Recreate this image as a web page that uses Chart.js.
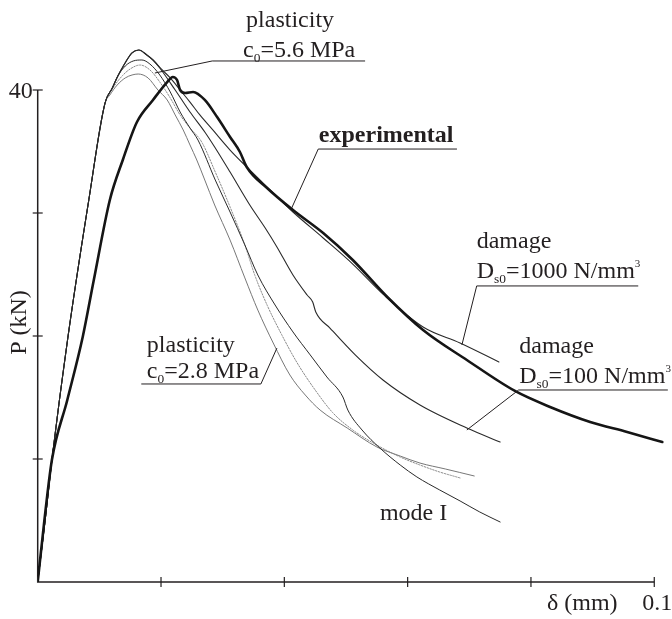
<!DOCTYPE html>
<html>
<head>
<meta charset="utf-8">
<script src="https://cdn.jsdelivr.net/npm/chart.js@4.4.1/dist/chart.umd.min.js"></script>
<style>
  html, body { margin: 0; padding: 0; background: #fff; }
  canvas { display: block; }
</style>
</head>
<body>
<canvas id="chart" width="672" height="619"></canvas>
<script>
// delta in mm, P in kN

// elastic branch shared by all numerical curves
const elasticDelta = [0, 0.0012, 0.0023, 0.0049, 0.0083, 0.0109];
const elasticLoad = [0, 5.0, 9.9, 19.9, 31.1, 38.9];

const experimentalDelta = [0, 0.0010, 0.0023, 0.0048, 0.0073, 0.0091, 0.0117, 0.0138, 0.0161, 0.0187,
  0.0210, 0.0219, 0.0226, 0.0231, 0.0239, 0.0252, 0.0271, 0.0291, 0.0312, 0.0328, 0.0339, 0.0372,
  0.0414, 0.0463, 0.0511, 0.0567, 0.0625, 0.0696, 0.0774, 0.0831, 0.0896, 0.0956, 0.1013];
const experimentalLoad = [0, 4.63, 9.92, 14.80, 19.92, 24.55, 31.06, 34.31, 37.40, 39.19,
  40.65, 41.06, 40.81, 40.00, 39.76, 39.84, 39.19, 37.80, 36.18, 34.96, 33.74, 32.03,
  30.24, 28.37, 26.18, 23.17, 20.49, 18.05, 15.53, 14.23, 13.01, 12.20, 11.38];

const damage1000Delta = [0.0121, 0.0130, 0.0138, 0.0153, 0.0164, 0.0177, 0.0187, 0.0202, 0.0215, 0.0231,
  0.0247, 0.0263, 0.0284, 0.0312, 0.0339, 0.0377, 0.0414, 0.0463, 0.0511, 0.0560, 0.0625, 0.0685, 0.0748];
const damage1000Load = [40.16, 41.14, 41.87, 43.01, 43.25, 42.85, 42.44, 41.63, 40.98, 40.00,
  39.02, 37.97, 36.75, 35.12, 33.74, 31.87, 30.08, 27.97, 25.85, 23.41, 20.73, 19.43, 17.89];

const damage100Delta = [0.0121, 0.0130, 0.0138, 0.0153, 0.0164, 0.0177, 0.0187, 0.0198, 0.0223, 0.0247,
  0.0271, 0.0287, 0.0312, 0.0344, 0.0369, 0.0388, 0.0414, 0.0437, 0.0446, 0.0451, 0.0474, 0.0515,
  0.0560, 0.0620, 0.0696, 0.0750];
const damage100Load = [40.16, 41.14, 41.87, 43.01, 43.25, 42.85, 42.44, 41.79, 40.00, 38.21,
  36.59, 35.37, 33.33, 30.65, 28.78, 27.24, 24.96, 23.33, 22.76, 21.95, 20.65, 18.46,
  16.42, 14.39, 12.52, 11.38];

const modeIDelta = [0.0121, 0.0130, 0.0142, 0.0155, 0.0169, 0.0182, 0.0198, 0.0215, 0.0231, 0.0247,
  0.0260, 0.0288, 0.0312, 0.0336, 0.0357, 0.0385, 0.0414, 0.0442, 0.0469, 0.0495, 0.0503, 0.0526,
  0.0555, 0.0588, 0.0615, 0.0652, 0.0685, 0.0717, 0.0750];
const modeILoad = [40.16, 41.14, 41.95, 42.36, 42.44, 42.11, 41.22, 39.84, 38.21, 36.91,
  35.93, 32.68, 30.08, 27.40, 24.96, 22.52, 20.33, 18.46, 16.67, 15.04, 13.98, 12.36,
  10.89, 9.51, 8.54, 7.48, 6.59, 5.69, 4.88];

const plast56Delta = [0.0122, 0.0137, 0.0150, 0.0166, 0.0182, 0.0198, 0.0215, 0.0231, 0.0247, 0.0266,
  0.0288, 0.0312, 0.0336, 0.0352, 0.0372, 0.0396, 0.0421, 0.0450, 0.0479, 0.0511, 0.0544, 0.0588,
  0.0620, 0.0652, 0.0685];
const plast56Load = [40.16, 41.14, 41.71, 42.03, 41.63, 40.65, 39.35, 37.97, 36.91, 35.77,
  33.33, 30.49, 27.40, 24.96, 22.52, 20.08, 17.80, 15.61, 13.74, 12.36, 11.30, 10.16,
  9.51, 8.94, 8.46];

const plast28Delta = [0.0117, 0.0129, 0.0142, 0.0153, 0.0163, 0.0179, 0.0195, 0.0210, 0.0223, 0.0236,
  0.0247, 0.0258, 0.0271, 0.0287, 0.0312, 0.0336, 0.0357, 0.0382, 0.0409, 0.0434, 0.0458, 0.0502,
  0.0550, 0.0588, 0.0620, 0.0661, 0.0708];
const plast28Load = [39.59, 40.41, 40.98, 41.22, 41.30, 40.98, 40.00, 39.19, 37.97, 36.75,
  35.53, 34.31, 32.68, 30.65, 27.80, 24.72, 22.11, 19.43, 16.83, 15.20, 13.98, 12.52,
  10.98, 10.24, 9.67, 9.19, 8.62];

const yTicks = [10, 20, 30, 40];
const xTicks = [0.02, 0.04, 0.06, 0.08, 0.1];
const yTickLabels = ['', '', '', '40'];
const xTickLabels = ['', '', '', '', '0.1'];

const FONT = '"Liberation Serif", "Times New Roman", serif';
const INK = '#231f20';

function toPoints(d, p) {
  return d.map((v, i) => ({ x: v, y: p[i] }));
}
function numerical(d, p) {
  return toPoints(elasticDelta.concat(d), elasticLoad.concat(p));
}

// text blocks and leader lines, in data units
const annotations = [
  { lines: [[{ t: 'plasticity' }], [{ t: 'c' }, { t: '0', sub: true }, { t: '=5.6 MPa' }]],
    at: [[0.0338, 45.12], [0.0333, 42.68]],
    leader: [[0.0190, 41.38], [0.0283, 42.36], [0.0531, 42.36]] },
  { lines: [[{ t: 'experimental' }]], bold: true,
    at: [[0.0456, 35.77]],
    leader: [[0.0412, 30.41], [0.0455, 35.20], [0.0680, 35.20]] },
  { lines: [[{ t: 'damage' }], [{ t: 'D' }, { t: 's0', sub: true }, { t: '=1000 N/mm' }, { t: '3', sup: true }]],
    at: [[0.0712, 27.15], [0.0712, 24.72]],
    leader: [[0.0688, 19.27], [0.0712, 24.07], [0.0974, 24.07]] },
  { lines: [[{ t: 'damage' }], [{ t: 'D' }, { t: 's0', sub: true }, { t: '=100 N/mm' }, { t: '3', sup: true }]],
    at: [[0.0781, 18.62], [0.0781, 16.18]],
    leader: [[0.0696, 12.36], [0.0780, 15.61], [0.1022, 15.61]] },
  { lines: [[{ t: 'plasticity' }], [{ t: 'c' }, { t: '0', sub: true }, { t: '=2.8 MPa' }]],
    at: [[0.0177, 18.70], [0.0177, 16.59]],
    leader: [[0.0388, 19.02], [0.0362, 16.10], [0.0168, 16.10]] },
  { lines: [[{ t: 'mode I' }]], at: [[0.0555, 5.04]] }
];

function drawRich(ctx, x, y, parts, size, weight) {
  let cx = x;
  parts.forEach(p => {
    let fs = size, dy = 0;
    if (p.sub) { fs = size * 0.56; dy = size * 0.2; }
    if (p.sup) { fs = size * 0.46; dy = -size * 0.45; }
    ctx.font = (weight || 'normal') + ' ' + fs + 'px ' + FONT;
    ctx.fillText(p.t, cx, y + dy);
    cx += ctx.measureText(p.t).width;
  });
}

const figurePlugin = {
  id: 'figure',
  beforeDatasetsDraw(chart) {
    const ctx = chart.ctx;
    const xs = chart.scales.x, ys = chart.scales.y;
    const x0 = xs.getPixelForValue(0), y0 = ys.getPixelForValue(0);
    ctx.save();
    ctx.strokeStyle = INK;
    ctx.lineWidth = 1.5;
    ctx.beginPath();
    ctx.moveTo(x0, ys.getPixelForValue(40));
    ctx.lineTo(x0, y0);
    ctx.lineTo(xs.getPixelForValue(0.1), y0);
    ctx.stroke();
    ctx.lineWidth = 1.2;
    yTicks.forEach(v => {
      const y = ys.getPixelForValue(v);
      ctx.beginPath(); ctx.moveTo(x0 - 5, y); ctx.lineTo(x0 + 5, y); ctx.stroke();
    });
    xTicks.forEach(v => {
      const x = xs.getPixelForValue(v);
      ctx.beginPath(); ctx.moveTo(x, y0 - 5); ctx.lineTo(x, y0 + 5); ctx.stroke();
    });
    ctx.restore();
  },
  afterDraw(chart) {
    const ctx = chart.ctx;
    const xs = chart.scales.x, ys = chart.scales.y;
    const px = v => xs.getPixelForValue(v), py = v => ys.getPixelForValue(v);
    const x0 = px(0), y0 = py(0);
    ctx.save();
    ctx.fillStyle = INK;
    ctx.strokeStyle = INK;
    ctx.textBaseline = 'alphabetic';

    // tick labels
    ctx.font = '24px ' + FONT;
    ctx.textAlign = 'right';
    yTicks.forEach((v, i) => { if (yTickLabels[i]) ctx.fillText(yTickLabels[i], x0 - 5, py(v) + 8); });
    ctx.textAlign = 'center';
    xTicks.forEach((v, i) => { if (xTickLabels[i]) ctx.fillText(xTickLabels[i], px(v) + 3, y0 + 28); });

    // axis titles
    ctx.textAlign = 'left';
    ctx.fillText('\u03b4 (mm)', px(0.0826), y0 + 28);
    ctx.save();
    ctx.translate(x0 - 12, py(21.1));
    ctx.rotate(-Math.PI / 2);
    ctx.textAlign = 'center';
    ctx.fillText('P (kN)', 0, 0);
    ctx.restore();

    // annotations
    ctx.lineWidth = 1;
    annotations.forEach(a => {
      ctx.textAlign = 'left';
      a.lines.forEach((parts, i) => {
        drawRich(ctx, px(a.at[i][0]), py(a.at[i][1]), parts, 24, a.bold ? 'bold' : 'normal');
      });
      if (a.leader) {
        ctx.beginPath();
        a.leader.forEach((pt, i) => {
          if (i === 0) ctx.moveTo(px(pt[0]), py(pt[1]));
          else ctx.lineTo(px(pt[0]), py(pt[1]));
        });
        ctx.stroke();
      }
    });
    ctx.restore();
  }
};

const lineBase = { showLine: true, pointRadius: 0, fill: false, borderCapStyle: 'round', borderJoinStyle: 'round',
  cubicInterpolationMode: 'monotone' };

new Chart(document.getElementById('chart'), {
  type: 'scatter',
  data: {
    datasets: [
      Object.assign({}, lineBase, { label: 'experimental', data: toPoints(experimentalDelta, experimentalLoad),
        borderColor: '#151515', borderWidth: 2.6 }),
      Object.assign({}, lineBase, { label: 'damage Ds0=1000', data: numerical(damage1000Delta, damage1000Load),
        borderColor: '#2a2a2a', borderWidth: 1.1 }),
      Object.assign({}, lineBase, { label: 'damage Ds0=100', data: numerical(damage100Delta, damage100Load),
        borderColor: '#2a2a2a', borderWidth: 1.1 }),
      Object.assign({}, lineBase, { label: 'mode I', data: numerical(modeIDelta, modeILoad),
        borderColor: '#2a2a2a', borderWidth: 1 }),
      Object.assign({}, lineBase, { label: 'plasticity c0=5.6', data: numerical(plast56Delta, plast56Load),
        borderColor: '#8a8a8a', borderWidth: 1, borderDash: [1.5, 1.5] }),
      Object.assign({}, lineBase, { label: 'plasticity c0=2.8', data: numerical(plast28Delta, plast28Load),
        borderColor: '#777777', borderWidth: 1 })
    ]
  },
  options: {
    responsive: false,
    devicePixelRatio: 1,
    animation: false,
    layout: { padding: { left: 37.7, right: 5.4, top: 28.5, bottom: 37 } },
    scales: {
      x: { type: 'linear', min: 0, max: 0.102, display: false },
      y: { type: 'linear', min: 0, max: 45, display: false }
    },
    plugins: { legend: { display: false }, tooltip: { enabled: false } }
  },
  plugins: [figurePlugin]
});
</script>
</body>
</html>
